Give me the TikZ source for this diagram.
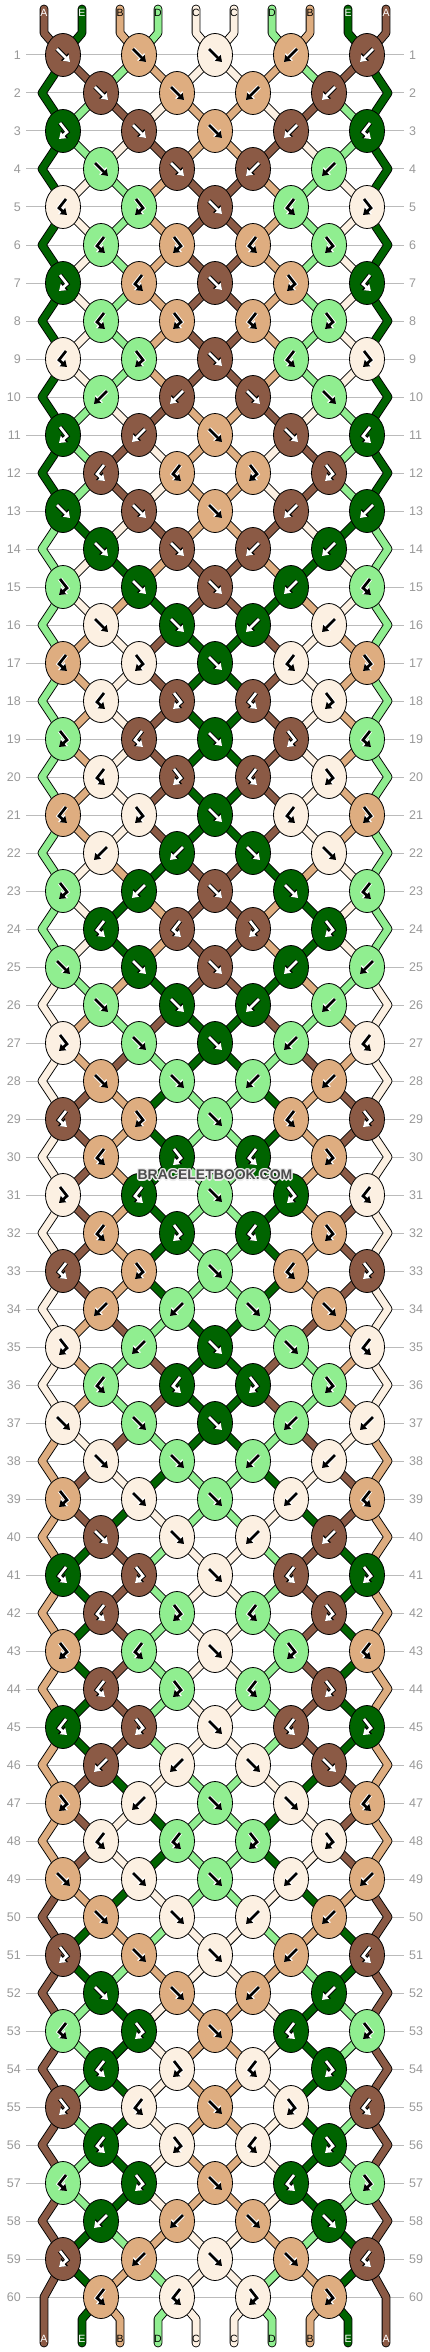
\documentclass[tikz,border=0pt]{standalone}
\usepackage{fontspec}
\setmainfont{Liberation Sans}
\usetikzlibrary{shapes.geometric,arrows.meta,calc}

\definecolor{strA}{HTML}{8B5A45}
\definecolor{strE}{HTML}{006400}
\definecolor{strB}{HTML}{DEAD80}
\definecolor{strD}{HTML}{90EE90}
\definecolor{strC}{HTML}{FCF0E2}
\colorlet{arwA}{white}\colorlet{arwE}{white}
\colorlet{arwB}{black}\colorlet{arwC}{black}\colorlet{arwD}{black}
\colorlet{outA}{black}\colorlet{outE}{black}
\colorlet{outB}{white}\colorlet{outC}{white}\colorlet{outD}{white}
\definecolor{rowgray}{HTML}{BBBBBB}
\definecolor{numgray}{HTML}{999999}

%% knot kinds per row, repeats every 12 rows (1=f 2=b 3=fb 4=bf)
\expandafter\def\csname kt1\endcsname{1,1,1,2,2}
\expandafter\def\csname kt2\endcsname{1,1,2,2}
\expandafter\def\csname kt3\endcsname{3,1,1,2,4}
\expandafter\def\csname kt4\endcsname{1,1,2,2}
\expandafter\def\csname kt5\endcsname{4,3,1,4,3}
\expandafter\def\csname kt6\endcsname{4,3,4,3}
\expandafter\def\csname kt7\endcsname{3,4,1,3,4}
\expandafter\def\csname kt8\endcsname{4,3,4,3}
\expandafter\def\csname kt9\endcsname{4,3,1,4,3}
\expandafter\def\csname kt10\endcsname{2,2,1,1}
\expandafter\def\csname kt11\endcsname{3,2,1,1,4}
\expandafter\def\csname kt12\endcsname{4,4,3,3}

\newcommand\setstr[2]{\expandafter\xdef\csname st#1\endcsname{#2}}
\newcommand\setlast[2]{\expandafter\xdef\csname la#1\endcsname{#2}}

\begin{document}
\begin{tikzpicture}[x=1pt,y=-1pt]

%% styles
\tikzstyle{knot}=[ellipse, draw, line width=0.8pt, minimum width=35pt, minimum height=43pt, inner sep=0pt]
\tikzstyle{rownum}=[text=numgray, inner sep=0pt, font=\fontsize{12.5}{14}\selectfont]
\tikzstyle{lbl}=[inner sep=0pt, font=\fontsize{10.5}{12}\selectfont]
\tikzstyle{brandtext}=[inner sep=0pt, font=\bfseries\fontsize{14}{16}\selectfont]
\tikzset{strand/.style={line width=0.9pt, double=str#1, double distance=7pt, line join=round, line cap=round}}
\tikzset{glyph/.style={preaction={draw=out#1, line width=4.6pt, -{Triangle[length=7.5pt,width=10pt]}}, draw=arw#1, line width=2.7pt, -{Triangle[length=6pt,width=8pt]}}}

\useasboundingbox (0,0) rectangle (430,2352);
\fill[white] (0,0) rectangle (430,2352);

%% row lines and numbers
\foreach \row in {1,...,60}{
  \pgfmathsetmacro\ry{55+38*(\row-1)}
  \node[rownum, anchor=east] (nl-\row) at (21,\ry) {\row};
  \node[rownum, anchor=west] (nr-\row) at (409,\ry) {\row};
  \draw[rowgray, line width=1pt] ($(nl-\row.east)+(5,0)$) -- ($(nr-\row.west)+(-5,0)$);
}

%% string ends
\foreach \c [count=\pos] in {A,E,B,D,C,C,D,B,E,A}{
  \pgfmathsetmacro\sx{44+38*(\pos-1)}
  \coordinate (top-\pos) at (\sx,9);
  \coordinate (bot-\pos) at (\sx,2343);
  \setstr{\pos}{\c}
  \setlast{\pos}{top-\pos}
}

%% strings
\foreach \row in {1,...,60}{
  \pgfmathtruncatemacro\pat{mod(\row-1,12)+1}
  \edef\kinds{\csname kt\pat\endcsname}
  \foreach \kt [count=\kn] in \kinds {
    \ifodd\row\relax \pgfmathtruncatemacro\pL{2*\kn-1}\else \pgfmathtruncatemacro\pL{2*\kn}\fi
    \pgfmathtruncatemacro\pR{\pL+1}
    \edef\lcol{\csname st\pL\endcsname}
    \edef\rcol{\csname st\pR\endcsname}
    \edef\lfrom{\csname la\pL\endcsname}
    \edef\rfrom{\csname la\pR\endcsname}
    \ifodd\kt\relax \edef\kcol{\lcol}\else \edef\kcol{\rcol}\fi
    \pgfmathsetmacro\kx{63+38*(\pL-1)}
    \pgfmathsetmacro\ky{55+38*(\row-1)}
    \coordinate (c-\row-\kn) at (\kx,\ky);
    \expandafter\xdef\csname kc-\row-\kn\endcsname{\kcol}
    \ifnum\row=1
      \draw[strand=\lcol] (\lfrom) -- ++(0,24) -- (c-\row-\kn);
      \draw[strand=\rcol] (\rfrom) -- ++(0,24) -- (c-\row-\kn);
    \else
      \ifnum\pL=1
        \draw[strand=\lcol] (\lfrom) -- ++(-9,20) -- ++(-12,18) -- ++(12,18) -- (c-\row-\kn);
      \else
        \draw[strand=\lcol] (\lfrom) -- (c-\row-\kn);
      \fi
      \ifnum\pR=10
        \draw[strand=\rcol] (\rfrom) -- ++(9,20) -- ++(12,18) -- ++(-12,18) -- (c-\row-\kn);
      \else
        \draw[strand=\rcol] (\rfrom) -- (c-\row-\kn);
      \fi
    \fi
    \setlast{\pL}{c-\row-\kn}
    \setlast{\pR}{c-\row-\kn}
    \ifnum\kt<3 \setstr{\pL}{\rcol}\setstr{\pR}{\lcol}\fi
  }
}

%% strings leaving the last rows
\foreach \pos in {1,...,10}{
  \edef\endcol{\csname st\pos\endcsname}
  \edef\endfrom{\csname la\pos\endcsname}
  \ifnum\pos=1
    \draw[strand=\endcol] (\endfrom) -- ++(-9,20) -- ($(bot-\pos)+(0,-46)$) -- (bot-\pos);
  \else\ifnum\pos=10
    \draw[strand=\endcol] (\endfrom) -- ++(9,20) -- ($(bot-\pos)+(0,-46)$) -- (bot-\pos);
  \else
    \draw[strand=\endcol] (\endfrom) -- ($(bot-\pos)+(0,-24)$) -- (bot-\pos);
  \fi\fi
}

%% knots
\foreach \row in {1,...,60}{
  \pgfmathtruncatemacro\pat{mod(\row-1,12)+1}
  \edef\kinds{\csname kt\pat\endcsname}
  \foreach \kt [count=\kn] in \kinds {
    \edef\kcol{\csname kc-\row-\kn\endcsname}
    \node[knot, fill=str\kcol] (k-\row-\kn) at (c-\row-\kn) {};
    \ifcase\kt\relax\or
      \draw[glyph=\kcol, shift={(k-\row-\kn)}] (-6,-6) -- (7,7);
    \or
      \draw[glyph=\kcol, shift={(k-\row-\kn)}] (6,-6) -- (-7,7);
    \or
      \draw[glyph=\kcol, shift={(k-\row-\kn)}] (-3,-8) -- (4,1) -- (-4,8);
    \or
      \draw[glyph=\kcol, shift={(k-\row-\kn)}] (3,-8) -- (-4,1) -- (4,8);
    \fi
  }
}

%% string labels
\foreach \c [count=\pos] in {A,E,B,D,C,C,D,B,E,A}{
  \node[lbl, text=arw\c] (lt-\pos) at ($(top-\pos)+(0,4)$) {\c};
  \node[lbl, text=arw\c] (lb-\pos) at ($(bot-\pos)+(0,-4)$) {\c};
}

%% watermark
\foreach \dx/\dy [count=\h] in {-1/-1,-1/1,1/-1,1/1,0/-1.5,0/1.5,-1.5/0,1.5/0}
  \node[brandtext, text=white!85!gray] (brand-\h) at ($(215,1175)+(\dx,\dy)$) {BRACELETBOOK.COM};
\node[brandtext, text=black!70] (brand) at (215,1175) {BRACELETBOOK.COM};

\end{tikzpicture}
\end{document}
